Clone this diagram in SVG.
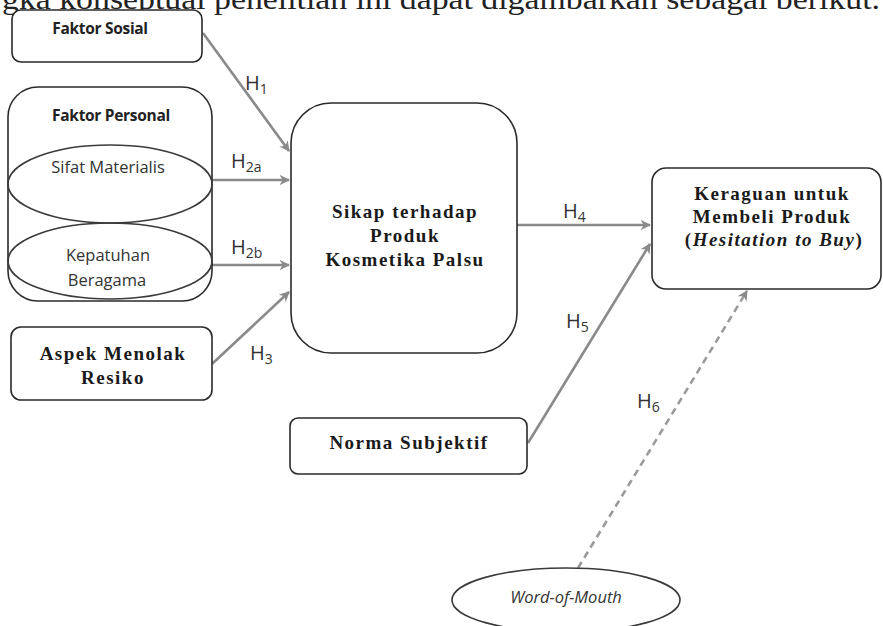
<svg xmlns="http://www.w3.org/2000/svg" width="883" height="626" viewBox="0 0 883 626">
  <style>
    .box { fill: #ffffff; stroke: #2a2a2a; stroke-width: 1.6; }
    .ell { fill: none; stroke: #3a3a3a; stroke-width: 1.6; }
    .sansb { font-family: "Open Sans", "Liberation Sans", sans-serif; font-weight: bold; font-size: 15.5px; fill: #222; text-anchor: middle; letter-spacing: -0.3px; }
    .sans { font-family: "Open Sans", "Liberation Sans", sans-serif; font-size: 16.5px; fill: #333; text-anchor: middle; }
    .serifb { font-family: "Liberation Serif", serif; font-weight: bold; font-size: 19px; fill: #1a1a1a; text-anchor: middle; letter-spacing: 1.5px; }
    .lbl { font-family: "Open Sans", "Liberation Sans", sans-serif; font-size: 20px; fill: #333; }
    .sub { font-size: 14px; }
    .arr { stroke: #8a8a8a; stroke-width: 2.6; fill: none; marker-end: url(#ah); }
    .dash { stroke: #9a9a9a; stroke-width: 2.6; fill: none; stroke-dasharray: 7 5; marker-end: url(#ah); }
  </style>
  <defs>
    <marker id="ah" viewBox="0 0 10 10" refX="9" refY="5" markerWidth="4" markerHeight="4" orient="auto" markerUnits="strokeWidth">
      <path d="M0,0 L10,5 L0,10 L3,5 Z" fill="#8a8a8a"/>
    </marker>
  </defs>
  <rect width="883" height="626" fill="#ffffff"/>

  <!-- running text of the page, its upper half cut by the top edge -->
  <text x="2" y="9" font-family="Liberation Serif, serif" font-size="29" fill="#222" textLength="878" lengthAdjust="spacingAndGlyphs">gka konseptual penelitian ini dapat digambarkan sebagai berikut.</text>

  <g id="connectors">
    <line class="arr" x1="203" y1="33" x2="289" y2="151"/>
    <line class="arr" x1="212" y1="180" x2="289" y2="180"/>
    <line class="arr" x1="212" y1="265" x2="289" y2="265"/>
    <line class="arr" x1="212" y1="364" x2="289" y2="292"/>
    <line class="arr" x1="517" y1="225" x2="650" y2="225"/>
    <line class="arr" x1="528" y1="443" x2="650" y2="244"/>
    <line class="dash" x1="578" y1="568" x2="747" y2="291"/>
    <text class="lbl" x="245" y="90">H<tspan class="sub" dy="4">1</tspan></text>
    <text class="lbl" x="231" y="168">H<tspan class="sub" dy="4">2a</tspan></text>
    <text class="lbl" x="231" y="254">H<tspan class="sub" dy="4">2b</tspan></text>
    <text class="lbl" x="250" y="360">H<tspan class="sub" dy="4">3</tspan></text>
    <text class="lbl" x="563" y="218">H<tspan class="sub" dy="4">4</tspan></text>
    <text class="lbl" x="566" y="328">H<tspan class="sub" dy="4">5</tspan></text>
    <text class="lbl" x="637" y="408">H<tspan class="sub" dy="4">6</tspan></text>
  </g>

  <g id="faktor-sosial">
    <rect class="box" x="12" y="10" width="190" height="52" rx="9"/>
    <text class="sansb" x="100" y="34">Faktor Sosial</text>
  </g>

  <g id="faktor-personal">
    <rect class="box" x="8" y="87" width="204" height="214" rx="30"/>
    <text class="sansb" x="111" y="121">Faktor Personal</text>
    <g id="sifat-materialis">
      <ellipse class="ell" cx="110" cy="184" rx="102" ry="39"/>
      <text class="sans" x="108" y="173">Sifat Materialis</text>
    </g>
    <g id="kepatuhan-beragama">
      <ellipse class="ell" cx="110" cy="261" rx="102" ry="38"/>
      <text class="sans" x="108" y="261">Kepatuhan</text>
      <text class="sans" x="107" y="286">Beragama</text>
    </g>
  </g>

  <g id="aspek-menolak-resiko">
    <rect class="box" x="11" y="327" width="201" height="73" rx="10"/>
    <text class="serifb" x="113" y="360">Aspek Menolak</text>
    <text class="serifb" x="113" y="384">Resiko</text>
  </g>

  <g id="sikap">
    <rect class="box" x="291" y="103" width="226" height="250" rx="40"/>
    <text class="serifb" x="405" y="218" font-size="20">Sikap terhadap</text>
    <text class="serifb" x="405" y="242" font-size="20">Produk</text>
    <text class="serifb" x="405" y="266" font-size="20">Kosmetika Palsu</text>
  </g>

  <g id="keraguan">
    <rect class="box" x="652" y="168" width="229" height="121" rx="14"/>
    <text class="serifb" x="772" y="200" font-size="18">Keraguan untuk</text>
    <text class="serifb" x="772" y="223" font-size="18">Membeli Produk</text>
    <text class="serifb" x="774" y="246" font-size="18">(<tspan font-style="italic">Hesitation to Buy</tspan>)</text>
  </g>

  <g id="norma-subjektif">
    <rect class="box" x="290" y="418" width="237" height="56" rx="8"/>
    <text class="serifb" x="409" y="449" font-size="18">Norma Subjektif</text>
  </g>

  <g id="word-of-mouth">
    <ellipse class="ell" cx="566" cy="600" rx="114" ry="32"/>
    <text class="sans" x="566" y="603" font-style="italic" font-size="17.5">Word-of-Mouth</text>
  </g>
</svg>
